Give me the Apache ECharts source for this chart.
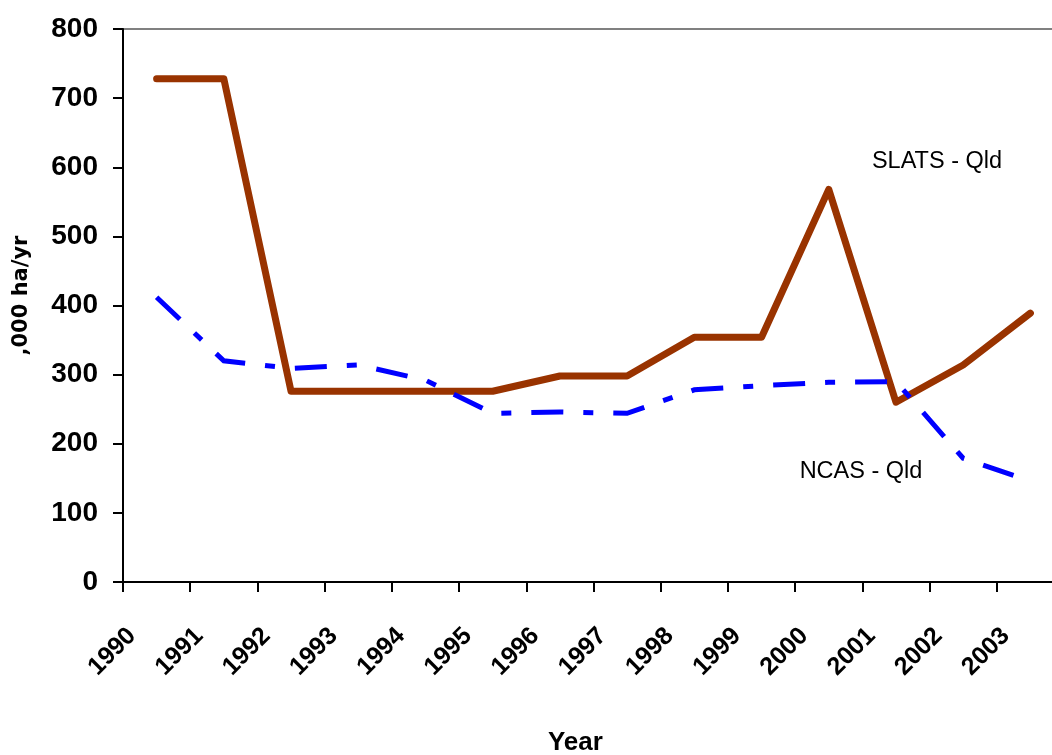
<!DOCTYPE html>
<html>
<head>
<meta charset="utf-8">
<script src="https://cdn.jsdelivr.net/npm/echarts@6/dist/echarts.min.js"></script>
<style>
  html, body { margin: 0; padding: 0; background: #ffffff; }
  #chart { width: 1052px; height: 755px; }
</style>
</head>
<body>
<div id="chart"></div>
<script>
// Annual clearing rate in Queensland, thousand hectares per year
const years = ['1990', '1991', '1992', '1993', '1994', '1995', '1996',
               '1997', '1998', '1999', '2000', '2001', '2002', '2003'];
const slatsQld = [728, 728, 276, 276, 276, 276, 298, 298, 354, 354, 568, 260, 314, 389];
const ncasQld  = [412, 320, 309, 314, 292, 244, 246, 244, 278, 284, 289, 290, 179, 146];
const seriesNames = ['SLATS - Qld', 'NCAS - Qld'];

const FONT = '"Liberation Sans", Arial, sans-serif';
const WIDE_FONT = '"DejaVu Sans", Verdana, sans-serif';
// plot area runs past the right edge of the canvas
const PLOT = { left: 123, top: 29, width: 941, height: 553, outerBoundsMode: 'none', containLabel: false };

const chart = echarts.init(document.getElementById('chart'), null, { renderer: 'canvas' });

chart.setOption({
  backgroundColor: '#ffffff',
  animation: false,
  grid: [
    Object.assign({ show: true, borderColor: '#808080', borderWidth: 2, backgroundColor: 'transparent' }, PLOT),
    // year labels sit just right of each tick mark
    Object.assign({}, PLOT, { left: PLOT.left - 24.6 })
  ],
  xAxis: [
    {
      type: 'category',
      gridIndex: 0,
      data: years,
      boundaryGap: true,
      axisLine: { show: true, lineStyle: { color: '#000000', width: 2 } },
      axisTick: { show: true, inside: false, length: 10, lineStyle: { color: '#000000', width: 2 } },
      axisLabel: { show: false },
      splitLine: { show: false }
    },
    {
      type: 'category',
      gridIndex: 1,
      data: years,
      boundaryGap: true,
      axisLine: { show: false },
      axisTick: { show: false },
      splitLine: { show: false },
      axisLabel: {
        show: true,
        interval: 0,
        rotate: 45,
        margin: 50,
        color: '#000000',
        fontFamily: FONT,
        fontWeight: 'bold',
        fontSize: 25
      },
      name: 'Year',
      nameLocation: 'middle',
      nameGap: 148,
      nameTextStyle: {
        color: '#000000',
        fontFamily: FONT,
        fontWeight: 'bold',
        fontSize: 26,
        padding: [0, 0, 0, 13]
      }
    }
  ],
  yAxis: [
    {
      type: 'value',
      gridIndex: 0,
      min: 0,
      max: 800,
      interval: 100,
      axisLine: { show: true, lineStyle: { color: '#000000', width: 2 } },
      axisTick: { show: true, inside: false, length: 10, lineStyle: { color: '#000000', width: 2 } },
      splitLine: { show: false },
      axisLabel: {
        margin: 25,
        color: '#000000',
        fontFamily: FONT,
        fontWeight: 'bold',
        fontSize: 28
      },
      name: ',000 ha/yr',
      nameLocation: 'middle',
      nameRotate: 90,
      nameGap: 91,
      nameTextStyle: {
        color: '#000000',
        fontFamily: WIDE_FONT,
        fontWeight: 'bold',
        fontSize: 21,
        padding: [0, 0, 0, 20]
      }
    },
    { type: 'value', gridIndex: 1, show: false, min: 0, max: 800 }
  ],
  series: [
    {
      name: seriesNames[0],
      type: 'line',
      xAxisIndex: 0,
      yAxisIndex: 0,
      data: slatsQld,
      symbol: 'none',
      lineStyle: { color: '#993300', width: 7, cap: 'round', join: 'round' },
      z: 2
    },
    {
      name: seriesNames[1],
      type: 'line',
      xAxisIndex: 0,
      yAxisIndex: 0,
      data: ncasQld,
      symbol: 'none',
      lineStyle: { color: '#0000ff', width: 5, type: [32, 20, 10, 20], cap: 'butt', join: 'miter' },
      z: 3
    }
  ],
  graphic: [
    {
      type: 'text',
      x: 937, y: 162,
      style: {
        text: seriesNames[0],
        font: '23.5px ' + FONT,
        fill: '#000000',
        align: 'center',
        verticalAlign: 'middle'
      }
    },
    {
      type: 'text',
      x: 861, y: 472,
      style: {
        text: seriesNames[1],
        font: '23.5px ' + FONT,
        fill: '#000000',
        align: 'center',
        verticalAlign: 'middle'
      }
    }
  ]
});
</script>
</body>
</html>
